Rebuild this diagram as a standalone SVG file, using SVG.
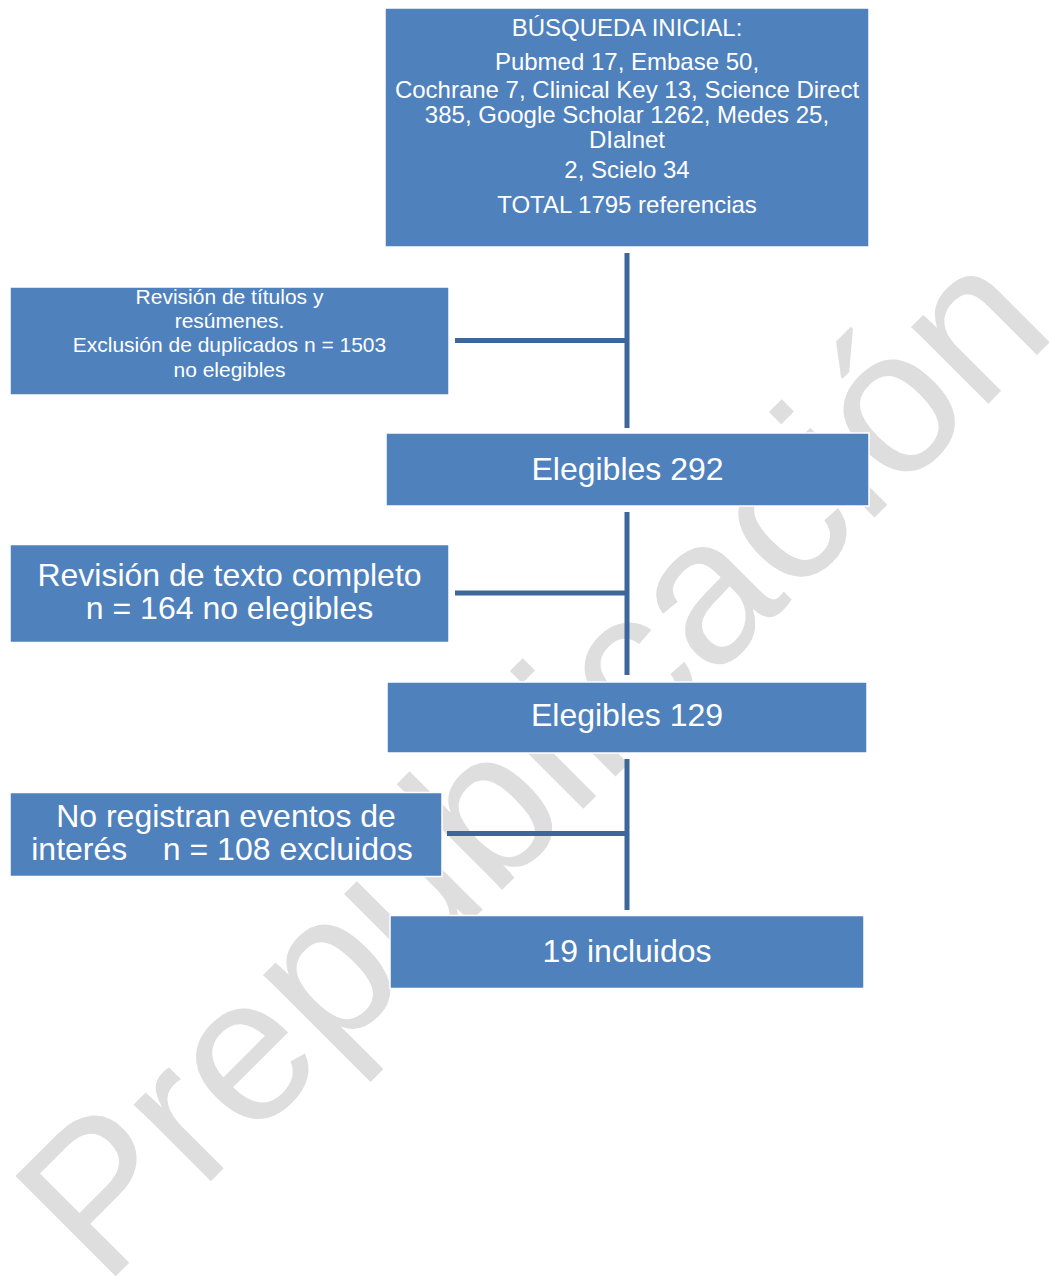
<svg xmlns="http://www.w3.org/2000/svg" width="1049" height="1278" viewBox="0 0 1049 1278">
<style>
text{font-family:"Liberation Sans",Arial,sans-serif;fill:#ffffff;text-anchor:middle}
.box{fill:#4f81bd;stroke:#ffffff;stroke-width:1.5}
.s24{font-size:24px}
.s21{font-size:21px}
.s32{font-size:32px}
.wm{font-size:206px;fill:#dedede;text-anchor:start}
.con{stroke:#3d679b;stroke-width:5;fill:none}
</style>
<rect width="1049" height="1278" fill="#ffffff"/>
<text class="wm" transform="translate(103.7,1288.3) rotate(-45)">Prepublicación</text>
<g id="connectors">
<line class="con" x1="627" y1="253" x2="627" y2="428"/>
<line class="con" x1="455" y1="340.5" x2="627" y2="340.5"/>
<line class="con" x1="627" y1="512" x2="627" y2="675"/>
<line class="con" x1="455" y1="593" x2="627" y2="593"/>
<line class="con" x1="627" y1="759" x2="627" y2="910"/>
<line class="con" x1="447" y1="833.5" x2="627" y2="833.5"/>
</g>
<g id="busqueda">
<rect class="box" x="385" y="8" width="484" height="239"/>
<text class="s24" x="627" y="36">BÚSQUEDA INICIAL:</text>
<text class="s24" x="627" y="70">Pubmed 17, Embase 50,</text>
<text class="s24" x="627" y="98">Cochrane 7, Clinical Key 13, Science Direct</text>
<text class="s24" x="627" y="123">385, Google Scholar 1262, Medes 25,</text>
<text class="s24" x="627" y="148">DIalnet</text>
<text class="s24" x="627" y="178">2, Scielo 34</text>
<text class="s24" x="627" y="213">TOTAL 1795 referencias</text>
</g>
<g id="revision-titulos">
<rect class="box" x="10" y="287" width="439" height="108"/>
<text class="s21" x="229.5" y="304">Revisión de títulos y</text>
<text class="s21" x="229.5" y="328">resúmenes.</text>
<text class="s21" x="229.5" y="352">Exclusión de duplicados n = 1503</text>
<text class="s21" x="229.5" y="377">no elegibles</text>
</g>
<g id="elegibles-292">
<rect class="box" x="386" y="433" width="483" height="73"/>
<text class="s32" x="627.5" y="480">Elegibles 292</text>
</g>
<g id="revision-texto">
<rect class="box" x="10" y="544.5" width="439" height="98"/>
<text class="s32" x="229.5" y="586">Revisión de texto completo</text>
<text class="s32" x="229.5" y="619">n = 164 no elegibles</text>
</g>
<g id="elegibles-129">
<rect class="box" x="387" y="682" width="480" height="71"/>
<text class="s32" x="627" y="726">Elegibles 129</text>
</g>
<g id="no-registran">
<rect class="box" x="10" y="792.5" width="432" height="84"/>
<text class="s32" x="226" y="827">No registran eventos de</text>
<text class="s32" x="222" y="860" xml:space="preserve">interés    n = 108 excluidos</text>
</g>
<g id="incluidos">
<rect class="box" x="390" y="915.5" width="474" height="73"/>
<text class="s32" x="627" y="962">19 incluidos</text>
</g>
</svg>
